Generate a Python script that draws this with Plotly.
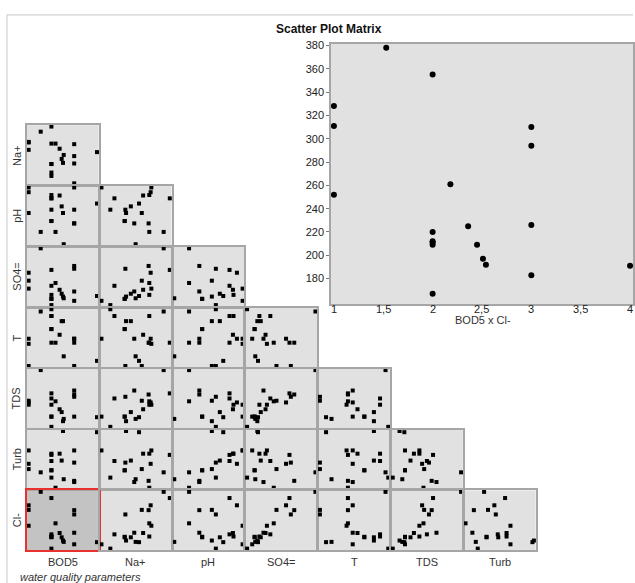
import plotly.graph_objects as go

W, H = 635, 583

# ---- data (20 water samples) ----
bod5 = [1, 1, 1, 1.53, 2, 2, 2, 2, 2, 2, 2.18, 2.36, 2.45, 2.51, 2.54, 3, 3, 3, 3, 4]
chloride = [328, 311, 252, 378, 355, 220, 212, 211, 209, 167, 261, 225, 209, 197, 192, 310, 294, 226, 183, 191]
sodium = [97.6, 87.2, 98.4, 112.8, 120.0, 55.2, 96.0, 67.2, 67.2, 50.4, 96.0, 88.8, 74.4, 68.8, 80.0, 95.2, 68.0, 78.4, 40.0, 84.0]
ph = [8.10, 7.66, 8.20, 7.26, 7.97, 7.97, 8.04, 7.49, 7.49, 7.73, 7.26, 8.03, 7.80, 7.66, 7.00, 7.44, 7.73, 7.44, 8.20, 7.86]
sulfate = [164, 136, 108, 250, 174, 118, 86, 72, 72, 50, 128, 104, 90, 80, 74, 188, 178, 98, 65, 82]
temp = [22.8, 18.0, 21.9, 27.6, 22.1, 26.8, 26.8, 24.5, 24.5, 28.0, 22.1, 23.5, 25.9, 25.9, 19.7, 22.1, 18.0, 22.8, 22.8, 18.9]
tds = [615, 630, 595, 900, 695, 650, 595, 490, 490, 400, 625, 555, 530, 450, 470, 685, 665, 720, 490, 485]
turb = [6.9, 5.6, 10.2, 4.8, 9.1, 7.6, 9.4, 5.3, 5.3, 3.5, 1.0, 9.4, 7.7, 15.0, 3.1, 2.7, 7.2, 2.4, 10.2, 14.7]

var_names = ["BOD5", "Na+", "pH", "SO4=", "T", "TDS", "Turb", "Cl-"]
columns = [bod5, sodium, ph, sulfate, temp, tds, turb, chloride]

big_xticks = [1, 1.5, 2, 2.5, 3, 3.5, 4]
big_xticktext = ["1", "1,5", "2", "2,5", "3", "3,5", "4"]
big_yticks = [180, 200, 220, 240, 260, 280, 300, 320, 340, 360, 380]

FONT = "Liberation Sans, Arial, sans-serif"
PANEL_BG = "#e1e1e1"
PANEL_LINE = "#a6a6a6"


def fx(p):
    return p / W


def fy(p):
    return 1 - p / H


def padded(vals, frac=0.025):
    lo, hi = min(vals), max(vals)
    pad = (hi - lo) * frac
    return [lo - pad, hi + pad]


fig = go.Figure()
layout = dict(
    width=W, height=H,
    margin=dict(l=0, r=0, t=0, b=0),
    paper_bgcolor="white",
    plot_bgcolor=PANEL_BG,
    showlegend=False,
    font=dict(family=FONT, size=11, color="#222"),
)
shapes = []
annotations = []

col_left0, col_pitch, col_w = 27.0, 73.05, 72.0
row_top0, row_pitch, row_h = 122.0, 61.3, 60.0

k = 0
for i in range(7):
    yv = i + 1
    for j in range(i + 1):
        k += 1
        xa = "xaxis" if k == 1 else f"xaxis{k}"
        ya = "yaxis" if k == 1 else f"yaxis{k}"
        xr = "x" if k == 1 else f"x{k}"
        yr = "y" if k == 1 else f"y{k}"
        left = col_left0 + j * col_pitch
        top = row_top0 + i * row_pitch
        is_red = (i == 6 and j == 0)
        lc = "#e8312f" if is_red else PANEL_LINE
        common = dict(showticklabels=False, ticks="", showgrid=False, zeroline=False,
                      showline=True, mirror=True, linecolor=lc, linewidth=1.5)
        layout[xa] = dict(domain=[fx(left), fx(left + col_w)], range=padded(columns[j]),
                          anchor=yr, **common)
        layout[ya] = dict(domain=[fy(top + row_h), fy(top)], range=padded(columns[yv]),
                          anchor=xr, **common)
        if is_red:
            shapes.append(dict(type="rect", xref=f"{xr} domain", yref=f"{yr} domain",
                               x0=0, x1=1, y0=0, y1=1, fillcolor="#c3c3c3",
                               line=dict(width=0), layer="below"))
        fig.add_trace(go.Scatter(
            x=columns[j], y=columns[yv], mode="markers",
            marker=dict(symbol="square", size=4, color="black", line=dict(width=0)),
            xaxis=xr, yaxis=yr, cliponaxis=False, hoverinfo="skip"))

# ---- big detail panel: BOD5 x Cl- ----
k += 1
xa, ya = f"xaxis{k}", f"yaxis{k}"
xr, yr = f"x{k}", f"y{k}"
layout[xa] = dict(domain=[fx(332), 1.0], range=[0.97, 4.03], anchor=yr,
                  tickvals=big_xticks, showticklabels=False, ticks="",
                  showgrid=False, zeroline=False, showline=True, mirror=True,
                  linecolor=PANEL_LINE, linewidth=1.5)
layout[ya] = dict(domain=[fy(302), fy(40)], range=[158.3, 381.5], anchor=xr,
                  tickvals=big_yticks,
                  ticks="outside", ticklen=3, tickcolor="#777",
                  showgrid=False, zeroline=False, showline=True, mirror=True,
                  linecolor=PANEL_LINE, linewidth=1.5,
                  tickfont=dict(size=11, color="#222", family=FONT))
fig.add_trace(go.Scatter(
    x=bod5, y=chloride, mode="markers",
    marker=dict(symbol="circle", size=6, color="black", line=dict(width=0)),
    xaxis=xr, yaxis=yr, cliponaxis=False, hoverinfo="skip"))

# x tick labels placed on the data axis, just under the frame
for tv, tt in zip(big_xticks, big_xticktext):
    annotations.append(dict(text=tt, x=tv, y=fy(307.5), xref=xr, yref="paper",
                            showarrow=False, xanchor="center", yanchor="middle",
                            font=dict(size=11, color="#222", family=FONT)))

annotations.append(dict(text="BOD5 x Cl-", x=fx(485), y=fy(318.5), xref="paper", yref="paper",
                        showarrow=False, xanchor="center", yanchor="middle",
                        font=dict(size=11, color="#333", family=FONT)))

# ---- labels ----
annotations.append(dict(text="<b>Scatter Plot Matrix</b>", x=fx(330), y=fy(25),
                        xref="paper", yref="paper", showarrow=False,
                        xanchor="center", yanchor="middle",
                        font=dict(size=12, color="#111", family=FONT)))
for i in range(7):
    cy = row_top0 + i * row_pitch + row_h / 2
    annotations.append(dict(text=var_names[i + 1], x=fx(17), y=fy(cy), xref="paper", yref="paper",
                            showarrow=False, textangle=-90, xanchor="center", yanchor="middle",
                            font=dict(size=11, color="#333", family=FONT)))
for j in range(7):
    cx = col_left0 + j * col_pitch + col_w / 2
    annotations.append(dict(text=var_names[j], x=fx(cx), y=fy(562), xref="paper", yref="paper",
                            showarrow=False, xanchor="center", yanchor="middle",
                            font=dict(size=11, color="#333", family=FONT)))
annotations.append(dict(text="<i>water quality parameters</i>", x=fx(81), y=fy(576.5),
                        xref="paper", yref="paper", showarrow=False,
                        xanchor="center", yanchor="middle",
                        font=dict(size=11, color="#333", family=FONT)))

# ---- frame lines ----
shapes.append(dict(type="line", xref="paper", yref="paper", x0=fx(7), x1=fx(7), y0=0, y1=fy(11),
                   line=dict(color="#c8c8c8", width=1)))
shapes.append(dict(type="line", xref="paper", yref="paper", x0=fx(7), x1=1, y0=fy(11), y1=fy(11),
                   line=dict(color="#c8c8c8", width=1)))

layout["shapes"] = shapes
layout["annotations"] = annotations
fig.update_layout(**layout)
fig.write_html("out.html", config={"displayModeBar": False},
               post_script="document.body.style.margin='0';document.body.style.overflow='hidden';")
